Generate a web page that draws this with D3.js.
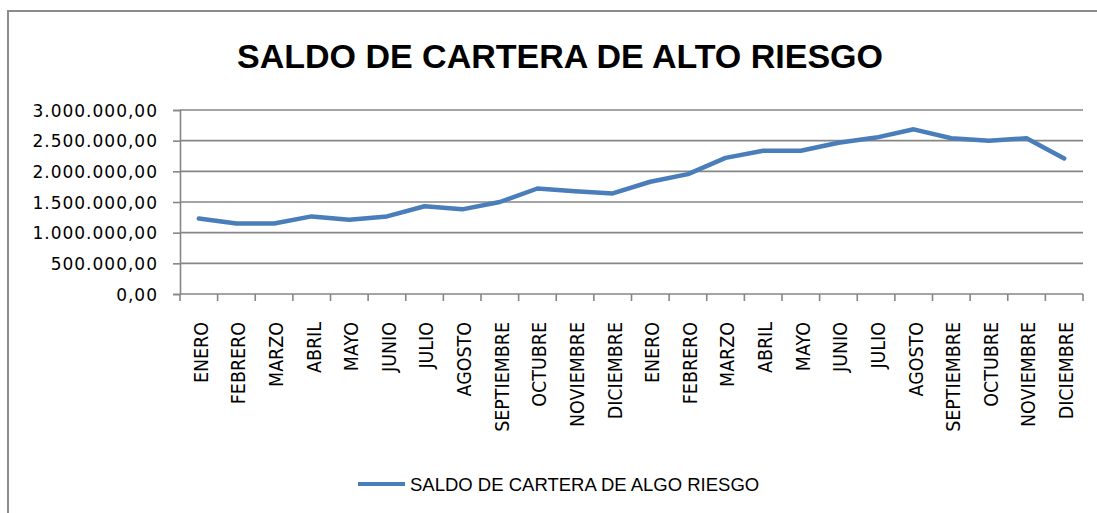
<!DOCTYPE html>
<html>
<head>
<meta charset="utf-8">
<script src="https://cdn.jsdelivr.net/npm/d3@7"></script>
<style>
  html, body { margin: 0; padding: 0; background: #fff; }
  svg { display: block; }
</style>
</head>
<body>
<svg id="chart" width="1097" height="513"></svg>
<script>
const months = ["ENERO","FEBRERO","MARZO","ABRIL","MAYO","JUNIO","JULIO","AGOSTO","SEPTIEMBRE","OCTUBRE","NOVIEMBRE","DICIEMBRE",
                "ENERO","FEBRERO","MARZO","ABRIL","MAYO","JUNIO","JULIO","AGOSTO","SEPTIEMBRE","OCTUBRE","NOVIEMBRE","DICIEMBRE"];
const saldo = [1230000,1150000,1150000,1265000,1210000,1265000,1430000,1380000,1500000,1720000,1675000,1640000,
               1830000,1955000,2220000,2335000,2335000,2465000,2550000,2685000,2540000,2500000,2540000,2210000];
const yTicks = [0,500000,1000000,1500000,2000000,2500000,3000000];
const title = "SALDO DE CARTERA DE ALTO RIESGO";
const seriesName = "SALDO DE CARTERA DE ALGO RIESGO";

const svg = d3.select("#chart");
const plot = {left: 180, right: 1083, top: 110, bottom: 294};
const grey = "#868686";
const blue = "#4a7ebb";

// chart border
svg.append("rect").attr("x", 8).attr("y", 11).attr("width", 1100).attr("height", 520)
  .attr("fill", "none").attr("stroke", "#8c8c8c").attr("stroke-width", 2);

const x = d3.scaleBand().domain(d3.range(months.length)).range([plot.left, plot.right]).padding(0);
const y = d3.scaleLinear().domain([0, 3000000]).range([plot.bottom, plot.top]);

const loc = d3.formatLocale({decimal: ",", thousands: ".", grouping: [3], currency: ["", ""]});
const fmt = loc.format(",.2f");

// gridlines
svg.append("g").selectAll("line").data(yTicks.filter(d => d > 0)).join("line")
  .attr("x1", plot.left).attr("x2", plot.right)
  .attr("y1", d => y(d)).attr("y2", d => y(d))
  .attr("stroke", grey).attr("stroke-width", 1.6);

// y axis
const yAxis = svg.append("g").attr("transform", `translate(${plot.left},0)`)
  .call(d3.axisLeft(y).tickValues(yTicks).tickSize(7).tickPadding(15).tickFormat(fmt));
yAxis.select(".domain").attr("stroke", grey).attr("stroke-width", 1.6);
yAxis.selectAll(".tick line").attr("stroke", grey).attr("stroke-width", 1.6);
yAxis.selectAll(".tick text")
  .attr("font-family", "DejaVu Sans").attr("font-size", 17).attr("fill", "#000")
  .attr("letter-spacing", 1).attr("dy", "0.36em");

// x axis line + ticks at band boundaries
const bounds = d3.range(months.length + 1).map(i => i < months.length ? x(i) : x(months.length - 1) + x.bandwidth());
svg.append("line").attr("x1", plot.left).attr("x2", plot.right)
  .attr("y1", plot.bottom).attr("y2", plot.bottom).attr("stroke", grey).attr("stroke-width", 1.6);
svg.append("g").selectAll("line").data(bounds).join("line")
  .attr("x1", d => d).attr("x2", d => d)
  .attr("y1", plot.bottom).attr("y2", plot.bottom + 7)
  .attr("stroke", grey).attr("stroke-width", 1.6);

// x labels
svg.append("g").selectAll("text").data(months).join("text")
  .attr("transform", (d, i) => `translate(${x(i) + x.bandwidth() / 2 + 2},${plot.bottom + 28}) scale(1.12,1) rotate(-90)`)
  .attr("text-anchor", "end").attr("dominant-baseline", "central")
  .attr("font-family", "DejaVu Sans").attr("font-size", 17.5).attr("fill", "#000")
  .text(d => d);

// line
const line = d3.line().x((d, i) => x(i) + x.bandwidth() / 2).y(d => y(d));
svg.append("path").datum(saldo).attr("d", line)
  .attr("fill", "none").attr("stroke", blue).attr("stroke-width", 4.5)
  .attr("stroke-linejoin", "round").attr("stroke-linecap", "round");

// title
svg.append("text").attr("x", 560).attr("y", 68).attr("text-anchor", "middle")
  .attr("font-family", "Liberation Sans").attr("font-weight", "bold").attr("font-size", 34)
  .attr("fill", "#000").text(title);

// legend
svg.append("line").attr("x1", 358).attr("x2", 405).attr("y1", 484).attr("y2", 484)
  .attr("stroke", blue).attr("stroke-width", 4);
svg.append("text").attr("x", 410).attr("y", 491)
  .attr("font-family", "Liberation Sans").attr("font-size", 18.5).attr("fill", "#000")
  .text(seriesName);
</script>
</body>
</html>
